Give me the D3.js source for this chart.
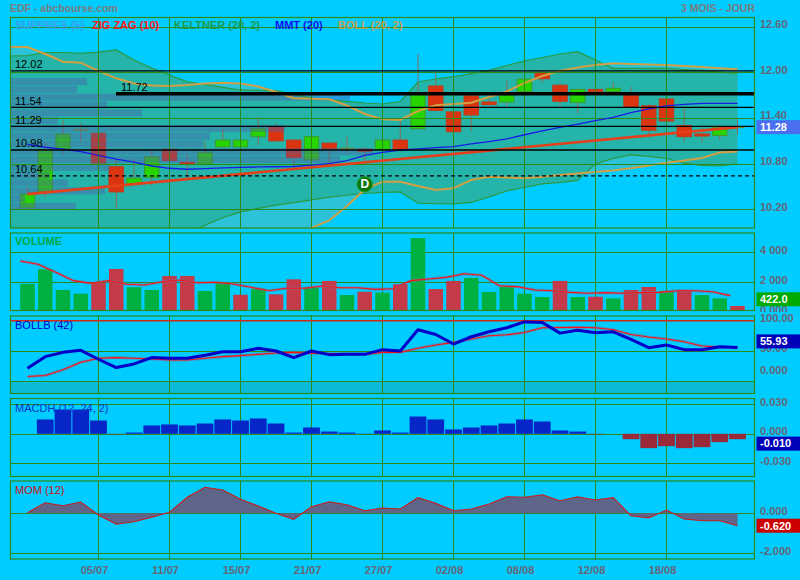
<!DOCTYPE html>
<html><head><meta charset="utf-8">
<script src="https://cdn.jsdelivr.net/npm/d3@7"></script>
<style>
body{margin:0;background:#00ccff;}
svg{display:block;font-family:"Liberation Sans",Arial,sans-serif;}
</style></head><body>
<svg id="c" width="800" height="580"></svg>
<script>
// ---------------- DATA ----------------
const dateTickIdx = [4, 8, 12, 16, 20, 24, 28, 32, 36];
const dateTickLabels = ["05/07","11/07","15/07","21/07","27/07","02/08","08/08","12/08","18/08"];

const openP  = [10.22,10.43,11.00,11.245,11.20,10.76,10.53,10.62,10.99,10.82,10.80,11.02,11.02,11.155,11.28,11.11,10.85,11.07,11.00,10.99,10.99,11.11,11.26,11.82,11.48,11.69,11.61,11.61,11.745,12.00,11.83,11.605,11.775,11.75,11.70,11.56,11.65,11.30,11.19,11.17,11.28];
const highP  = [10.49,11.07,11.37,11.33,11.30,10.87,10.86,10.98,11.24,10.92,11.09,11.25,11.13,11.41,11.33,11.12,11.16,11.08,11.155,11.015,11.24,11.36,12.24,12.00,11.49,11.70,11.66,11.89,12.01,12.02,11.86,11.79,11.89,11.87,11.81,11.59,11.66,11.535,11.31,11.31,11.40];
const lowP   = [10.22,10.36,10.92,11.09,10.75,10.22,10.52,10.51,10.83,10.61,10.78,11.01,11.01,11.04,11.09,10.74,10.84,10.78,10.945,10.83,10.99,10.96,11.26,11.49,11.21,11.23,11.55,11.56,11.74,11.86,11.55,11.46,11.68,11.74,11.54,11.18,11.35,11.09,11.08,11.12,11.19];
const closeP = [10.40,10.99,11.19,11.245,10.81,10.43,10.61,10.89,10.84,10.81,10.95,11.11,11.11,11.265,11.10,10.88,11.155,11.00,11.00,10.98,11.11,10.99,11.71,11.50,11.22,11.44,11.575,11.70,11.91,11.915,11.62,11.775,11.745,11.79,11.55,11.24,11.36,11.155,11.17,11.28,11.28];

// bands: first value is one bar before the first candle
const bollUpper = [12.336,12.332,12.240,12.139,12.126,12.017,11.921,11.853,11.827,11.820,11.833,11.853,11.862,11.854,11.814,11.741,11.659,11.652,11.646,11.564,11.453,11.383,11.374,11.492,11.567,11.584,11.600,11.676,11.748,11.860,11.951,12.017,12.063,12.096,12.118,12.109,12.102,12.096,12.083,12.070,12.052,12.039];
const bollLower = [9.799,9.778,9.791,9.835,9.790,9.812,9.821,9.793,9.714,9.660,9.621,9.617,9.626,9.652,9.701,9.781,9.874,9.957,10.055,10.245,10.462,10.564,10.564,10.508,10.455,10.478,10.587,10.629,10.619,10.609,10.630,10.652,10.672,10.691,10.711,10.740,10.777,10.814,10.843,10.874,10.946,10.961];
const keltUpper = [12.214,12.220,12.260,12.260,12.249,12.266,12.293,12.161,12.056,11.965,11.874,11.841,11.801,11.768,11.764,11.759,11.709,11.665,11.639,11.617,11.597,11.584,11.617,11.873,11.912,11.942,11.982,12.026,12.089,12.148,12.194,12.240,12.270,12.161,12.052,12.052,12.052,12.052,12.037,12.024,12.004,11.987];
const keltLower = [9.668,9.642,9.602,9.589,9.589,9.602,9.642,9.694,9.747,9.799,9.878,9.991,10.091,10.168,10.214,10.255,10.290,10.324,10.360,10.386,10.409,10.423,10.429,10.281,10.274,10.272,10.291,10.364,10.442,10.488,10.534,10.554,10.580,10.797,10.869,10.915,10.895,10.871,10.803,10.777,10.770,10.797];

const mmt20 = [11.055,11.016,10.99,10.958,10.91,10.86,10.82,10.77,10.74,10.727,10.735,10.745,10.753,10.757,10.76,10.763,10.78,10.80,10.84,10.91,10.95,10.98,10.995,11.01,11.024,11.06,11.09,11.125,11.18,11.23,11.278,11.32,11.365,11.409,11.47,11.52,11.558,11.58,11.593,11.593,11.593];

const zigIdx = [0, 40];
const zigVal = [10.40, 11.28];

const levels      = [12.02, 11.72, 11.54, 11.29, 10.98, 10.64];
const levelLabels = ["12.02","11.72","11.54","11.29","10.98","10.64"];
const levelFrom   = [-1, 5, -1, -1, -1, -1];
const levelStyle  = ["thin","thick","thin","thin","thin","dash"];

// volume by price (SUPPRES)
const supCenters = [11.878,11.776,11.673,11.571,11.468,11.366,11.264,11.161,11.059,10.956,10.854,10.752,10.649,10.547,10.444,10.342,10.240];
const supStep = 0.1024;
const supVolume = [77,67,340,97,132,48,275,200,193,363,330,100,40,58,95,15,66];

const markerIdx = [19];
const markerVal = [10.53];
const markerText = ["D"];

const mainTicks = [12.60, 12.00, 11.40, 10.80, 10.20];
const mainTickLabels = ["12.60","12.00","11.40","10.80","10.20"];

const volume = [1890,2870,1490,1240,1970,2890,1670,1490,2420,2420,1420,1970,1170,1570,1200,2200,1670,2090,1150,1370,1310,1870,4950,1550,2090,2290,1350,1730,1240,1020,2090,1020,1040,930,1490,1690,1420,1490,1150,930,422];
const volumeUp = [1,1,1,1,0,0,1,1,0,0,1,1,0,1,0,0,1,0,1,0,1,0,1,0,0,1,1,1,1,1,0,1,0,1,0,0,1,0,1,1,0];
const volumeMA = [3420,3200,2670,2110,1930,2110,1870,1820,2040,2150,1970,2000,1890,1670,1440,1600,1600,1750,1640,1640,1530,1570,2110,2220,2330,2570,2470,1770,1710,1490,1440,1330,1270,1310,1270,1310,1330,1440,1440,1370,1110];
const volTicks = [4000, 2000, 0];
const volTickLabels = ["4 000","2 000","0 000"];

const bollB = [21.6,40.7,47.8,51.1,36.4,22.7,28.7,39.1,38,38,42.9,48.9,48.9,54.4,50,39.1,50,44,44.5,44.5,52.2,50,85,77.3,61.5,73.5,81.7,88.3,98,97,79.5,84.4,80,81.7,69.2,55.4,59.8,52.2,52.2,57,55.93];
const bollBSignal = [7.9,9.5,18.9,31.4,38,39.1,38,36.9,35.2,35.2,38,40.7,42.3,44.5,46.7,47.8,46.2,45.6,45.6,44.5,47.8,47.8,54.4,59.8,64.2,69.7,75.1,76.7,80.6,88.3,88.9,89.3,88.3,85,77.3,73,69.7,65.2,58.2,56.6,55.4];
const bollBTicks = [100, 50, 0];
const bollBTickLabels = ["100.00","50.00","0.000"];

const macdH = [0,0.0146,0.0247,0.0247,0.0135,-0.0005,0.0013,0.0085,0.0095,0.0085,0.0105,0.0146,0.0135,0.0156,0.0105,0.0013,0.0064,0.0023,0.0013,0.0003,0.0034,0.0013,0.0176,0.0146,0.0044,0.0064,0.0085,0.0105,0.0146,0.0125,0.0034,0.0023,-0.0005,0,-0.0055,-0.0146,-0.0126,-0.0146,-0.0136,-0.0085,-0.0055];
const macdTicks = [0.03, 0, -0.03];
const macdTickLabels = ["0.030","0.000","-0.030"];

const mom = [0.03,0.53,0.38,0.565,-0.085,-0.55,-0.42,-0.2,0.05,0.8,1.3,1.165,0.7,0.365,0,-0.3,0.33,0.58,0.43,0.13,0.265,0.215,0.78,0.5,0.13,0.215,0.465,0.83,0.8,0.93,0.63,0.83,0.665,0.78,-0.12,-0.235,0.165,-0.285,-0.37,-0.37,-0.62];
const momTicks = [0, -2];
const momTickLabels = ["0.000","-2.000"];

const legendNames = ["SUPPRES (5)","ZIG ZAG (10)","KELTNER (20, 2)","MMT (20)","BOLL (20, 2)"];

const lastLabels = {main:"11.28", vol:"422.0", boll:"55.93", macd:"-0.010", mom:"-0.620"};
const lastValues = {main:11.28, vol:422, boll:55.93, macd:-0.010, mom:-0.620};

// ---------------- LAYOUT ----------------
const L = 10, R = 755;
const P = {main:[17,228.5], vol:[232.5,311], boll:[315.5,394], macd:[398,477], mom:[480.5,559.5]};
const GC = "#2c8a14";
const TC = "#666676";

const svg = d3.select("#c");
const defs = svg.append("defs");
function mkClip(id, y0, y1, x0 = L, x1 = R) {
  defs.append("clipPath").attr("id", id).append("rect")
    .attr("x", x0).attr("y", y0).attr("width", x1 - x0).attr("height", y1 - y0);
}
Object.keys(P).forEach(k => mkClip("clip-" + k, P[k][0], P[k][1]));
mkClip("clip-vlab", 228.5, 312, R, 800);

const x = d3.scaleLinear().domain([0, 40]).range([27.5, 737.5]);
const yMain = d3.scaleLinear().domain([10.2, 12.6]).range([209.4, 26.6]);
const yVol = d3.scaleLinear().domain([0, 4000]).range([312.3, 252.3]);
const yBoll = d3.scaleLinear().domain([0, 100]).range([381.3, 320.7]);
const yMacd = d3.scaleLinear().domain([-0.03, 0.03]).range([463.3, 404.3]);
const yMom = d3.scaleLinear().domain([-2, 0]).range([553.3, 513.3]);

function text(g, tx, ty, s, color, opts = {}) {
  return g.append("text").attr("x", tx).attr("y", ty).attr("dy", "0.35em")
    .attr("fill", color).attr("font-size", opts.size || 11)
    .attr("font-weight", opts.weight || "bold")
    .attr("text-anchor", opts.anchor || "start").text(s);
}
const crisp = v => Math.round(v) + 0.5;

function vGrid(g, key) {
  g.selectAll(null).data(dateTickIdx).join("line")
    .attr("x1", d => crisp(x(d) - 0.5)).attr("x2", d => crisp(x(d) - 0.5))
    .attr("y1", P[key][0]).attr("y2", P[key][1])
    .attr("stroke", GC).attr("stroke-width", 1);
}
function hGrid(g, vals, sc) {
  g.selectAll(null).data(vals).join("line")
    .attr("x1", L).attr("x2", R).attr("y1", d => crisp(sc(d))).attr("y2", d => crisp(sc(d)))
    .attr("stroke", GC).attr("stroke-width", 1);
}
function frame(key) {
  svg.append("rect").attr("x", L + 0.5).attr("y", P[key][0] + 0.5)
    .attr("width", R - L - 1).attr("height", P[key][1] - P[key][0] - 1)
    .attr("fill", "none").attr("stroke", GC).attr("stroke-width", 1.2);
}
function tickLabels(g, vals, labels, sc, shiftFn) {
  vals.forEach((v, i) => {
    let yy = sc(v) - 2.5;
    if (shiftFn) yy = shiftFn(yy, i);
    text(g, 760, yy, labels[i], TC);
  });
}
function lastBox(g, yc, label, color) {
  g.append("rect").attr("x", 756.5).attr("y", yc - 7).attr("width", 44).attr("height", 14).attr("fill", color);
  text(g, 760, yc, label, "#ffffff");
}

// ---------------- TITLE ----------------
text(svg, 10, 8.5, "EDF - abcbourse.com", "#7c7c7c", {size: 10.5});
text(svg, 755, 8.5, "3 MOIS - JOUR", "#7c7c7c", {anchor: "end", size: 10.5});

// ---------------- MAIN PANEL ----------------
const gm = svg.append("g").attr("clip-path", "url(#clip-main)");
const bIdx = d3.range(bollUpper.length);
const bx = i => x(i - 1);

gm.append("path").datum(bIdx)
  .attr("d", d3.area().x(bx).y0(i => yMain(bollLower[i])).y1(i => yMain(bollUpper[i])))
  .attr("fill", "#2cc3d8");
gm.append("path").datum(bIdx)
  .attr("d", d3.area().x(bx).y0(i => yMain(keltLower[i])).y1(i => yMain(keltUpper[i])))
  .attr("fill", "#25b4a9");

// candles
const cIdx = d3.range(openP.length);
gm.selectAll(".wick").data(cIdx).join("line")
  .attr("x1", i => x(i)).attr("x2", i => x(i))
  .attr("y1", i => yMain(highP[i])).attr("y2", i => yMain(lowP[i]))
  .attr("stroke", "#8a6a58").attr("stroke-width", 1);
const isDoji = i => Math.abs(closeP[i] - openP[i]) < 0.006;
gm.selectAll(".body").data(cIdx).join("rect")
  .attr("x", i => x(i) - 7.2).attr("width", 14.4)
  .attr("y", i => isDoji(i) ? yMain(Math.max(openP[i], closeP[i])) - 1 : yMain(Math.max(openP[i], closeP[i])))
  .attr("height", i => Math.max(2, Math.abs(yMain(openP[i]) - yMain(closeP[i]))))
  .attr("fill", i => isDoji(i) ? "#5f9a3a" : (closeP[i] > openP[i] ? "#27d400" : "#da3510"))
  .attr("stroke", i => isDoji(i) ? "none" : (closeP[i] > openP[i] ? "#3d9a2c" : "#c4381a"))
  .attr("stroke-width", 1);

// volume-by-price histogram
const supX = d3.scaleLinear().domain([0, 400]).range([L, L + 400]);
gm.selectAll(".sup").data(supCenters.map((c, i) => i)).join("rect")
  .attr("x", L).attr("y", i => yMain(supCenters[i] + supStep / 2) + 0.4)
  .attr("width", i => supX(supVolume[i]) - L)
  .attr("height", i => yMain(supCenters[i] - supStep / 2) - yMain(supCenters[i] + supStep / 2) - 0.8)
  .attr("fill", "rgba(78,92,175,0.42)");

// band strokes
gm.append("path").datum(bIdx).attr("d", d3.line().x(bx).y(i => yMain(keltUpper[i])))
  .attr("fill", "none").attr("stroke", "#2a9a40").attr("stroke-width", 1.2);
gm.append("path").datum(bIdx).attr("d", d3.line().x(bx).y(i => yMain(keltLower[i])))
  .attr("fill", "none").attr("stroke", "#2a9a40").attr("stroke-width", 1.2);
gm.append("path").datum(bIdx).attr("d", d3.line().x(bx).y(i => yMain(bollUpper[i])))
  .attr("fill", "none").attr("stroke", "#d2a044").attr("stroke-width", 2);
gm.append("path").datum(bIdx).attr("d", d3.line().x(bx).y(i => yMain(bollLower[i])))
  .attr("fill", "none").attr("stroke", "#d2a044").attr("stroke-width", 2);

// grid
hGrid(gm, mainTicks, yMain);
vGrid(gm, "main");

// MMT & zigzag
gm.append("path").datum(cIdx).attr("d", d3.line().x(i => x(i)).y(i => yMain(mmt20[i])))
  .attr("fill", "none").attr("stroke", "#1a1ae8").attr("stroke-width", 1.3);
gm.append("path").datum(zigIdx.map((d, i) => i))
  .attr("d", d3.line().x(i => x(zigIdx[i])).y(i => yMain(zigVal[i])))
  .attr("fill", "none").attr("stroke", "#e4401c").attr("stroke-width", 2.6);

// support/resistance levels
levels.forEach((lv, i) => {
  const x0 = levelFrom[i] < 0 ? L : x(levelFrom[i]) - 0.25;
  const yy = yMain(lv);
  const ln = gm.append("line").attr("x1", x0).attr("x2", R).attr("y1", yy).attr("y2", yy)
    .attr("stroke", "#000").attr("stroke-width", levelStyle[i] === "thick" ? 3.5 : 1.3);
  if (levelStyle[i] === "dash") ln.attr("stroke-dasharray", "4,3");
  text(gm, levelFrom[i] < 0 ? 15 : x0 + 5, yy - 6.5, levelLabels[i], "#000", {weight: "normal"});
});

// legend
const legX = [15, 92, 174, 275, 338];
const legC = ["#3c9fe8", "#ff1a1a", "#1f9a48", "#1010f0", "#c2a24e"];
legendNames.forEach((s, i) => text(svg, legX[i], 25, s, legC[i]));

// marker
markerIdx.forEach((mi, i) => {
  gm.append("circle").attr("cx", x(mi)).attr("cy", yMain(markerVal[i])).attr("r", 7.6)
    .attr("fill", "#0a780a").attr("stroke", "#179a17").attr("stroke-width", 1);
  text(gm, x(mi), yMain(markerVal[i]), markerText[i], "#fff", {anchor: "middle", size: 12});
});
frame("main");
tickLabels(svg, mainTicks, mainTickLabels, yMain);
lastBox(svg, yMain(lastValues.main), lastLabels.main, "#4a6ef0");

// ---------------- VOLUME ----------------
const gv = svg.append("g").attr("clip-path", "url(#clip-vol)");
hGrid(gv, [4000, 2000], yVol);
vGrid(gv, "vol");
gv.selectAll(".vb").data(cIdx).join("rect")
  .attr("x", i => x(i) - 7.25).attr("width", 14.5)
  .attr("y", i => yVol(volume[i])).attr("height", i => yVol(0) - yVol(volume[i]))
  .attr("fill", i => volumeUp[i] ? "#00b040" : "#c43a48");
const vmaLine = d3.line().x(i => x(i) - 7.25).y(i => yVol(volumeMA[i]));
gv.append("path").datum(cIdx).attr("d", vmaLine).attr("fill", "none")
  .attr("stroke", "rgba(130,110,150,0.55)").attr("stroke-width", 3);
gv.append("path").datum(cIdx).attr("d", vmaLine).attr("fill", "none")
  .attr("stroke", "#ff1010").attr("stroke-width", 1.1);
text(svg, 15, 241, "VOLUME", "#00a844");
frame("vol");
const gvl = svg.append("g").attr("clip-path", "url(#clip-vlab)");
tickLabels(gvl, volTicks, volTickLabels, yVol);
lastBox(svg, Math.min(yVol(lastValues.vol), P.vol[1] - 11.7), lastLabels.vol, "#00aa00");

// ---------------- BOLLB ----------------
const gb = svg.append("g").attr("clip-path", "url(#clip-boll)");
gb.append("rect").attr("x", L).attr("width", R - L).attr("y", yBoll(0) + 1).attr("height", P.boll[1] - yBoll(0) - 1)
  .attr("fill", "#0abad6");
hGrid(gb, [50, 0], yBoll);
vGrid(gb, "boll");
gb.append("line").attr("x1", L).attr("x2", R).attr("y1", yBoll(100)).attr("y2", yBoll(100))
  .attr("stroke", "#d42a10").attr("stroke-width", 1.5);
const sigLine = d3.line().x(i => x(i)).y(i => yBoll(bollBSignal[i]));
gb.append("path").datum(cIdx).attr("d", sigLine).attr("fill", "none")
  .attr("stroke", "rgba(130,110,150,0.55)").attr("stroke-width", 3);
gb.append("path").datum(cIdx).attr("d", sigLine).attr("fill", "none")
  .attr("stroke", "#ff1010").attr("stroke-width", 1.1);
gb.append("path").datum(cIdx).attr("d", d3.line().x(i => x(i)).y(i => yBoll(bollB[i])))
  .attr("fill", "none").attr("stroke", "#0000c8").attr("stroke-width", 3).attr("stroke-linejoin", "round");
text(svg, 15, 325, "BOLLB (42)", "#0000cc", {weight: "normal"});
frame("boll");
tickLabels(svg, bollBTicks, bollBTickLabels, yBoll, (yy, i) => Math.min(yy, 370.3));
lastBox(svg, yBoll(lastValues.boll) - 6, lastLabels.boll, "#0000b8");

// ---------------- MACDH ----------------
const gc = svg.append("g").attr("clip-path", "url(#clip-macd)");
hGrid(gc, macdTicks, yMacd);
vGrid(gc, "macd");
gc.selectAll(".mb").data(cIdx).join("rect")
  .attr("x", i => x(i) - 8.4).attr("width", 16.8)
  .attr("y", i => Math.min(yMacd(0), yMacd(macdH[i])))
  .attr("height", i => Math.abs(yMacd(macdH[i]) - yMacd(0)))
  .attr("fill", i => macdH[i] >= 0 ? "#0626c8" : "#9a2a3a");
text(svg, 15, 407.7, "MACDH (12, 24, 2)", "#0a34c8", {weight: "normal"});
frame("macd");
tickLabels(svg, macdTicks, macdTickLabels, yMacd);
lastBox(svg, yMacd(lastValues.macd), lastLabels.macd, "#0000b8");

// ---------------- MOM ----------------
const go = svg.append("g").attr("clip-path", "url(#clip-mom)");
hGrid(go, momTicks, yMom);
vGrid(go, "mom");
go.append("path").datum(cIdx).attr("d", d3.area().x(i => x(i)).y0(yMom(0)).y1(i => yMom(mom[i])))
  .attr("fill", "#5f6489");
go.append("path").datum(cIdx).attr("d", d3.line().x(i => x(i)).y(i => yMom(mom[i])))
  .attr("fill", "none").attr("stroke", "#cc1c1c").attr("stroke-width", 1.1);
text(svg, 15, 490, "MOM (12)", "#cc1111", {weight: "normal"});
frame("mom");
tickLabels(svg, momTicks, momTickLabels, yMom);
lastBox(svg, yMom(lastValues.mom), lastLabels.mom, "#cc0000");

// ---------------- DATE AXIS ----------------
dateTickIdx.forEach((d, i) => text(svg, x(d) - 4, 570, dateTickLabels[i], TC, {anchor: "middle"}));
</script>
</body></html>
